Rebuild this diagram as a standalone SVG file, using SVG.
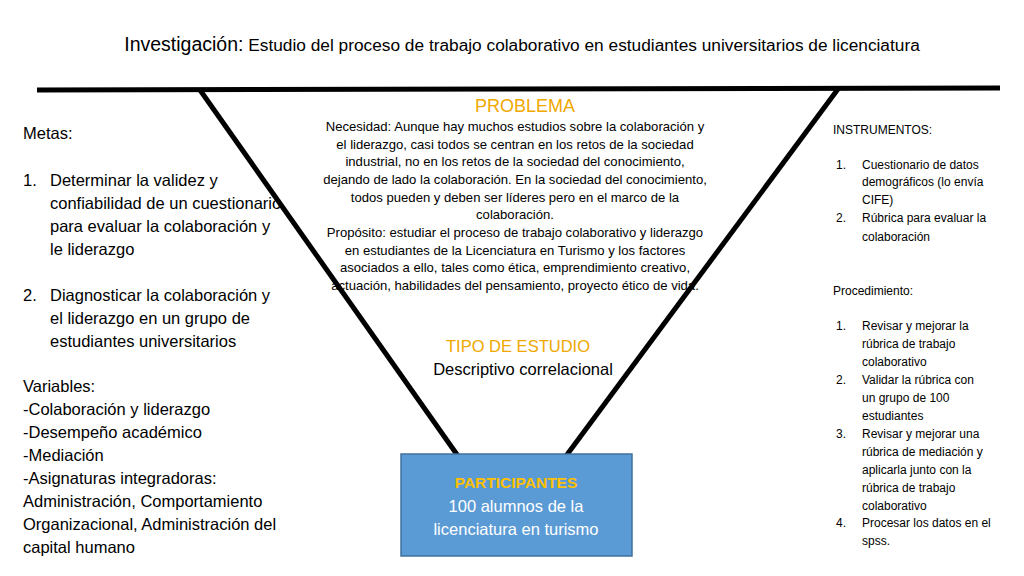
<svg xmlns="http://www.w3.org/2000/svg" width="1024" height="576" viewBox="0 0 1024 576">
<style>
text{font-family:"Liberation Sans",sans-serif;fill:#000}
.l{font-size:16.5px}
.p{font-size:13.1px}
.r{font-size:12px}
.o{fill:#f0a800}
</style>
<rect width="1024" height="576" fill="#fff"/>
<g id="connectors" stroke="#000" stroke-width="5" fill="none">
<line x1="37" y1="90" x2="1000" y2="88"/>
<line x1="200" y1="90" x2="458" y2="456"/>
<line x1="838" y1="89" x2="566" y2="456"/>
</g>
<g id="title"><text x="522" y="51" text-anchor="middle" style="font-size:17.3px"><tspan style="font-size:19.5px">Investigación:</tspan> Estudio del proceso de trabajo colaborativo en estudiantes universitarios de licenciatura</text></g>
<g id="problema" text-anchor="middle">
<text x="525" y="112" class="o" style="font-size:18px">PROBLEMA</text>
<text class="p" x="515" y="131">Necesidad: Aunque hay muchos estudios sobre la colaboración y</text>
<text class="p" x="515" y="149">el liderazgo, casi todos se centran en los retos de la sociedad</text>
<text class="p" x="515" y="166">industrial, no en los retos de la sociedad del conocimiento,</text>
<text class="p" x="515" y="184">dejando de lado la colaboración. En la sociedad del conocimiento,</text>
<text class="p" x="515" y="202">todos pueden y deben ser líderes pero en el marco de la</text>
<text class="p" x="515" y="219">colaboración.</text>
<text class="p" x="515" y="237">Propósito: estudiar el proceso de trabajo colaborativo y liderazgo</text>
<text class="p" x="515" y="255">en  estudiantes  de la Licenciatura en  Turismo y los factores</text>
<text class="p" x="515" y="272">asociados a ello, tales como ética, emprendimiento creativo,</text>
<text class="p" x="515" y="290">actuación, habilidades del pensamiento, proyecto ético de vida.</text>
</g>
<g id="tipo" text-anchor="middle">
<text x="518" y="352" class="o" style="font-size:16.5px">TIPO DE ESTUDIO</text>
<text x="523" y="375" style="font-size:16.5px">Descriptivo correlacional</text>
</g>
<g id="participantes">
<rect x="401" y="454" width="231" height="102" fill="#5b9bd5" stroke="#41719c" stroke-width="1.5"/>
<text x="516" y="488" text-anchor="middle" style="font-size:15.5px;font-weight:bold;fill:#ffc000">PARTICIPANTES</text>
<text x="516" y="512" text-anchor="middle" style="font-size:16.5px;fill:#fff">100 alumnos de la</text>
<text x="516" y="535" text-anchor="middle" style="font-size:16.5px;fill:#fff">licenciatura en turismo</text>
</g>
<g id="metas">
<text class="l" x="23" y="139">Metas:</text>
<text class="l" x="23" y="186">1.</text>
<text class="l" x="50" y="186">Determinar la validez y</text>
<text class="l" x="50" y="209">confiabilidad de un cuestionario</text>
<text class="l" x="50" y="232">para evaluar la colaboración y</text>
<text class="l" x="50" y="255">le liderazgo</text>
<text class="l" x="23" y="301">2.</text>
<text class="l" x="50" y="301">Diagnosticar la colaboración y</text>
<text class="l" x="50" y="324">el liderazgo en un grupo de</text>
<text class="l" x="50" y="347">estudiantes universitarios</text>
<text class="l" x="23" y="392">Variables:</text>
<text class="l" x="23" y="415">-Colaboración y liderazgo</text>
<text class="l" x="23" y="438">-Desempeño académico</text>
<text class="l" x="23" y="461">-Mediación</text>
<text class="l" x="23" y="484">-Asignaturas integradoras:</text>
<text class="l" x="23" y="507">Administración, Comportamiento</text>
<text class="l" x="23" y="530">Organizacional, Administración del</text>
<text class="l" x="23" y="553">capital humano</text>
</g>
<g id="instrumentos">
<text class="r" x="833" y="134">INSTRUMENTOS:</text>
<text class="r" x="836" y="169">1.</text><text class="r" x="862" y="169">Cuestionario de datos</text>
<text class="r" x="862" y="186">demográficos (lo envía</text>
<text class="r" x="862" y="204">CIFE)</text>
<text class="r" x="836" y="222">2.</text><text class="r" x="862" y="222">Rúbrica para evaluar la</text>
<text class="r" x="862" y="241">colaboración</text>
<text class="r" x="833" y="295">Procedimiento:</text>
<text class="r" x="836" y="330">1.</text><text class="r" x="862" y="330">Revisar y mejorar la</text>
<text class="r" x="862" y="348">rúbrica de trabajo</text>
<text class="r" x="862" y="366">colaborativo</text>
<text class="r" x="836" y="384">2.</text><text class="r" x="862" y="384">Validar la rúbrica con</text>
<text class="r" x="862" y="402">un grupo de 100</text>
<text class="r" x="862" y="420">estudiantes</text>
<text class="r" x="836" y="438">3.</text><text class="r" x="862" y="438">Revisar y mejorar una</text>
<text class="r" x="862" y="456">rúbrica de mediación y</text>
<text class="r" x="862" y="474">aplicarla junto con la</text>
<text class="r" x="862" y="492">rúbrica de trabajo</text>
<text class="r" x="862" y="510">colaborativo</text>
<text class="r" x="836" y="527">4.</text><text class="r" x="862" y="527">Procesar los datos en el</text>
<text class="r" x="862" y="545">spss.</text>
</g>
</svg>
